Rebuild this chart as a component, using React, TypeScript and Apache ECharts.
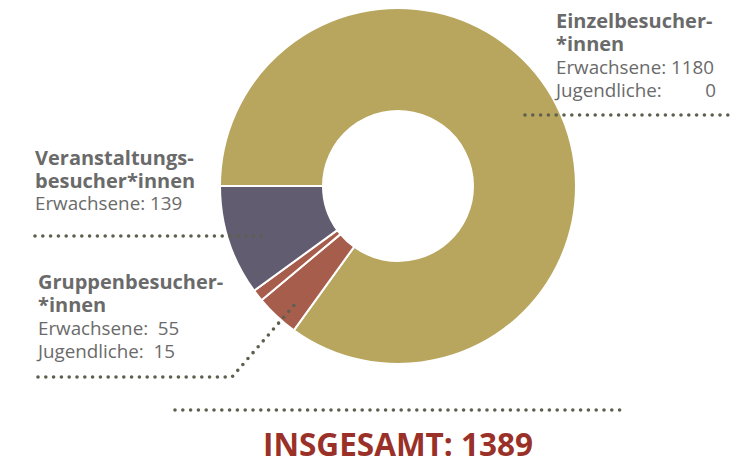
import React, { useEffect, useRef } from "react";
import * as echarts from "echarts";

const sliceNames = ["Einzelbesucher*innen", "Gruppenbesucher*innen Erwachsene", "Gruppenbesucher*innen Jugendliche", "Veranstaltungsbesucher*innen"];
const sliceValues = [1180, 55, 15, 139];
const sliceColors = ["#b8a65e", "#a75d4c", "#a75d4c", "#625c71"];
const total = 1389;

const FONT = "'Open Sans', sans-serif";
const GRAY = "#6a6a6a";
const DOT = "#5f5f4f";

function dotted(points: number[][]) {
  return {
    type: "polyline",
    shape: { points },
    style: { stroke: DOT, lineWidth: 3.6, lineDash: [0, 7.8], lineCap: "round", fill: null },
    z: 100,
  };
}

function block(x: number, y: number, text: string, lh: number) {
  return {
    type: "text",
    x,
    y,
    style: {
      text,
      fill: GRAY,
      textAlign: "left",
      textVerticalAlign: "top",
      rich: {
        b: { fontFamily: FONT, fontWeight: "bold", fontSize: 20, lineHeight: lh, fill: GRAY },
        r: { fontFamily: FONT, fontWeight: "normal", fontSize: 18.8, lineHeight: lh, fill: GRAY },
        j: { fontFamily: FONT, fontWeight: "normal", fontSize: 18.8, lineHeight: lh, fill: GRAY, width: 120, align: "left" },
        z: { fontFamily: FONT, fontWeight: "normal", fontSize: 18.8, lineHeight: lh, fill: GRAY, width: 40, align: "right" },
      },
    },
    z: 100,
  };
}

export default function App() {
  const ref = useRef<HTMLDivElement>(null);
  useEffect(() => {
    const chart = echarts.init(ref.current!, null, { renderer: "svg" });
    chart.setOption({
      animation: false,
      series: [
        {
          type: "pie",
          center: [390, 178],
          radius: [75, 178],
          startAngle: 180,
          clockwise: true,
          label: { show: false },
          labelLine: { show: false },
          itemStyle: { borderColor: "#fff", borderWidth: 2 },
          data: sliceNames.map((n, i) => ({ name: n, value: sliceValues[i], itemStyle: { color: sliceColors[i] } })),
        },
      ],
      graphic: [
        block(548, 0.5, "{b|Einzelbesucher-}\n{b|*innen}\n{r|Erwachsene: " + sliceValues[0] + "}\n{j|Jugendliche:}{z|0}", 23.3),
        dotted([[517, 107], [727, 107]]),
        block(27, 138.5, "{b|Veranstaltungs-}\n{b|besucher*innen}\n{r|Erwachsene: " + sliceValues[3] + "}", 22.6),
        dotted([[27, 228], [256, 228]]),
        block(30, 261.5, "{b|Gruppenbesucher-}\n{b|*innen}\n{r|Erwachsene:  " + sliceValues[1] + "}\n{r|Jugendliche:  " + sliceValues[2] + "}", 23.3),
        dotted([[30, 369], [224, 369], [288, 295]]),
        dotted([[167, 402], [619, 402]]),
        {
          type: "text",
          x: 390,
          y: 435,
          style: {
            text: "INSGESAMT: " + total,
            fill: "#9a3128",
            font: `bold 31.5px ${FONT}`,
            lineHeight: 30,
            textAlign: "center",
            textVerticalAlign: "middle",
          },
        },
      ],
    });
    return () => chart.dispose();
  }, []);
  return <div ref={ref} style={{ width: 737, height: 456 }} />;
}
